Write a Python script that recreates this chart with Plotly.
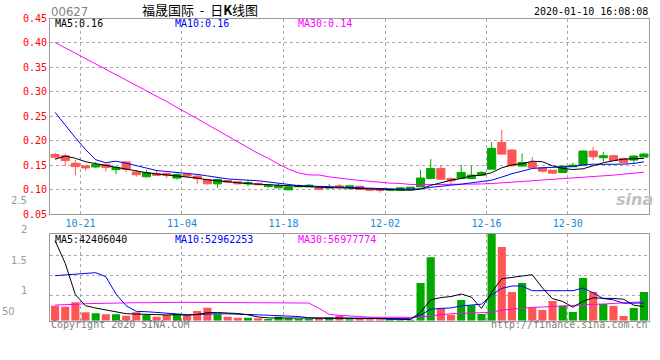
import plotly.graph_objects as go

# ---------------- data ----------------
dates = ["10-16", "10-17", "10-18", "10-21", "10-22", "10-23", "10-24", "10-25", "10-28", "10-29",
         "10-30", "10-31", "11-01", "11-04", "11-05", "11-06", "11-07", "11-08", "11-11", "11-12",
         "11-13", "11-14", "11-15", "11-18", "11-19", "11-20", "11-21", "11-22", "11-25", "11-26",
         "11-27", "11-28", "11-29", "12-02", "12-03", "12-04", "12-05", "12-06", "12-09", "12-10",
         "12-11", "12-12", "12-13", "12-16", "12-17", "12-18", "12-19", "12-20", "12-23", "12-24",
         "12-27", "12-30", "12-31", "01-02", "01-03", "01-06", "01-07", "01-08", "01-09"]
tick_labels = ["10-21", "11-04", "11-18", "12-02", "12-16", "12-30"]

price_open = [0.1662, 0.1593, 0.147, 0.1442, 0.151, 0.1449, 0.1455, 0.1414, 0.1304, 0.1345,
              0.129, 0.129, 0.131, 0.1276, 0.1221, 0.1117, 0.1207, 0.1152, 0.1117, 0.1146,
              0.1097, 0.109, 0.1083, 0.1056, 0.1083, 0.109, 0.1007, 0.1056, 0.1042, 0.1076,
              0.100, 0.0986, 0.0979, 0.1007, 0.1035, 0.1049, 0.1236, 0.1432, 0.1212, 0.1178,
              0.135, 0.1295, 0.135, 0.1843, 0.1726, 0.1486, 0.1555, 0.1445, 0.1377, 0.1336,
              0.148, 0.150, 0.1788, 0.1671, 0.1692, 0.1596, 0.1548, 0.1685, 0.1726]
price_close = [0.1718, 0.169, 0.1538, 0.1483, 0.1462, 0.1518, 0.1407, 0.1566, 0.1359, 0.1262,
               0.1331, 0.1331, 0.1235, 0.1317, 0.1276, 0.1207, 0.1117, 0.1186, 0.1159, 0.1118,
               0.1125, 0.1062, 0.1035, 0.0993, 0.1056, 0.1056, 0.1042, 0.1035, 0.1076, 0.1042,
               0.1069, 0.1007, 0.100, 0.0986, 0.0986, 0.1007, 0.1056, 0.1226, 0.1432, 0.1226,
               0.1226, 0.1226, 0.1295, 0.1418, 0.1966, 0.1808, 0.148, 0.1555, 0.1445, 0.1397,
               0.135, 0.1466, 0.150, 0.1788, 0.1651, 0.1692, 0.1637, 0.1603, 0.1664]
price_high = [0.1752, 0.1731, 0.1607, 0.1497, 0.1566, 0.1525, 0.1469, 0.1573, 0.140, 0.140,
              0.140, 0.1345, 0.1331, 0.1317, 0.129, 0.1221, 0.1221, 0.1186, 0.1159, 0.1194,
              0.1146, 0.109, 0.1118, 0.1056, 0.1104, 0.1118, 0.1042, 0.1118, 0.1118, 0.1097,
              0.1069, 0.1007, 0.100, 0.1007, 0.1049, 0.1049, 0.1403, 0.1623, 0.150, 0.1247,
              0.150, 0.1486, 0.1377, 0.1966, 0.2219, 0.183, 0.174, 0.1664, 0.1445, 0.140,
              0.1493, 0.1548, 0.1802, 0.1877, 0.1774, 0.1712, 0.165, 0.1705, 0.1753]
price_low = [0.1635, 0.1483, 0.1297, 0.1386, 0.1442, 0.1366, 0.1317, 0.1359, 0.1262, 0.1242,
             0.1276, 0.1235, 0.1207, 0.1242, 0.111, 0.111, 0.1035, 0.113, 0.1104, 0.1069,
             0.109, 0.1035, 0.1035, 0.0993, 0.1056, 0.1056, 0.099, 0.1035, 0.1042, 0.100,
             0.100, 0.0965, 0.0938, 0.0965, 0.0986, 0.1007, 0.1056, 0.1226, 0.1212, 0.111,
             0.1226, 0.1226, 0.1295, 0.1418, 0.1712, 0.1466, 0.1466, 0.1445, 0.135, 0.133,
             0.135, 0.1466, 0.150, 0.160, 0.1569, 0.1582, 0.1548, 0.1534, 0.1664]

price_ma5 = [0.162, 0.1685, 0.164, 0.157, 0.153, 0.149, 0.146, 0.1415, 0.138, 0.1345,
             0.132, 0.130, 0.128, 0.126, 0.1235, 0.120, 0.1175, 0.116, 0.114, 0.112,
             0.111, 0.1097, 0.108, 0.1065, 0.1056, 0.1056, 0.1045, 0.104, 0.1035, 0.103,
             0.1028, 0.102, 0.1007, 0.100, 0.0993, 0.0985, 0.101, 0.1085, 0.1137, 0.1192,
             0.1226, 0.128, 0.1295, 0.1345, 0.1445, 0.1505, 0.1527, 0.158, 0.157, 0.1486,
             0.1432, 0.141, 0.1425, 0.1493, 0.1548, 0.159, 0.1623, 0.163, 0.1637]
price_ma10 = [0.258, 0.231, 0.206, 0.182, 0.161, 0.155, 0.158, 0.154, 0.149, 0.144,
              0.139, 0.137, 0.1355, 0.1335, 0.131, 0.128, 0.125, 0.1218, 0.1205, 0.1195,
              0.118, 0.1155, 0.113, 0.1102, 0.108, 0.1072, 0.1064, 0.1058, 0.1055, 0.1045,
              0.1025, 0.102, 0.1017, 0.1012, 0.1007, 0.1007, 0.1015, 0.1045, 0.1075, 0.109,
              0.111, 0.1137, 0.116, 0.1192, 0.1255, 0.1325, 0.1377, 0.1432, 0.1445, 0.1452,
              0.1459, 0.1473, 0.150, 0.152, 0.1516, 0.1514, 0.152, 0.1534, 0.1568]
price_ma30 = [0.401, 0.390, 0.3795, 0.369, 0.358, 0.347, 0.336, 0.325, 0.314, 0.303,
              0.292, 0.280, 0.268, 0.257, 0.245, 0.233, 0.221, 0.209, 0.197, 0.185,
              0.174, 0.164, 0.152, 0.142, 0.134, 0.130, 0.1298, 0.126, 0.1229, 0.121,
              0.1187, 0.1166, 0.1146, 0.1132, 0.1125, 0.1104, 0.110, 0.110, 0.1103, 0.1103,
              0.1105, 0.1108, 0.1115, 0.1123, 0.1137, 0.1146, 0.1158, 0.117, 0.1192, 0.120,
              0.1212, 0.1226, 0.124, 0.126, 0.128, 0.1295, 0.1315, 0.1335, 0.1356]

# volume in millions of shares
volume_m = [45, 42, 55, 25, 22, 19, 19, 15, 25, 17,
            12, 17, 20, 15, 29, 39, 19, 12, 9, 9,
            7, 5, 12, 7, 5, 5, 7, 10, 15, 4,
            6, 4, 4, 4, 3, 3, 113, 190, 38, 18,
            62, 46, 20, 280, 221, 86, 113, 40, 32, 59,
            45, 26, 128, 86, 50, 44, 14, 38, 86]
vol_ma5 = [240, 172, 78, 45, 38, 33, 28, 21, 20, 19,
           17.6, 17.2, 18.2, 16.2, 18.6, 24, 24.4, 22.8, 21.6, 17.6,
           11.2, 8.4, 8.4, 8, 7.2, 6.8, 7.2, 6.8, 8.4, 8.2,
           8.4, 7.8, 6.6, 4.4, 4.2, 3.6, 25.4, 62.6, 69.4, 72.4,
           80, 70.8, 36.8, 85.2, 125.8, 130.6, 135, 138, 98.4, 66,
           57.8, 40.4, 58, 68.8, 67, 66.8, 64.4, 46.4, 42.4]
vol_ma10 = [135, 137, 140, 142, 144, 132, 80, 45, 28, 27,
            25, 22.6, 19.1, 18.1, 18.8, 20.8, 20.8, 20.5, 18.9, 18.1,
            17.6, 16.4, 15.6, 14.8, 12.4, 9, 7.8, 7.6, 8.2, 7.7,
            7.6, 7.5, 6.7, 6.4, 6.2, 6, 16.6, 34.6, 36.9, 38.3,
            44.3, 48.1, 49.7, 77.3, 97, 104, 104, 90, 90, 92,
            92, 90, 98, 83.6, 66.5, 62.3, 52.4, 52.2, 53.0]
vol_ma30 = [47, 47, 49, 51, 52, 52, 53, 53, 54, 54,
            55, 55, 55, 55, 55, 55, 55, 55, 55, 55,
            55, 55, 55, 55, 55, 53, 37, 19, 16, 15,
            12.5, 10.5, 10, 10, 10, 10, 11, 15, 19, 21,
            22, 23, 24, 25, 32, 35, 38, 40, 41, 43,
            45, 47, 48, 49, 50, 52, 54, 55, 57]

price_ticks = [0.05, 0.10, 0.15, 0.20, 0.25, 0.30, 0.35, 0.40, 0.45]
vol_grid = [75, 135, 195]
vol_scale_labels = ["2.5", "2", "1.5", "1"]

title_text = "福晟国际\u00a0\u00a0-\u00a0\u00a0日<b>K</b>线图"
code_text = "00627"
time_text = "2020-01-10 16:08:08"
price_ma_text = ["MA5:0.16", "MA10:0.16", "MA30:0.14"]
vol_ma_text = ["MA5:42406040", "MA10:52962253", "MA30:56977774"]

# ---------------- style ----------------
W, H = 660, 360
RED = "#ff5555"
GREEN = "#00a800"
MA_COLORS = ["#000000", "#0000ff", "#ff00ff"]
GRID = "#a8a8a8"
BORDER = "#9a9a9a"
MONO = "DejaVu Sans Mono, Liberation Mono, monospace"


def fx(p):
    return p / W


def fy(p):
    return 1 - p / H


n = len(dates)
xs = [i + 0.5 for i in range(n)]
tickvals = [dates.index(t) for t in tick_labels]
bar_colors = [RED if c >= o else GREEN for o, c in zip(price_open, price_close)]

fig = go.Figure()

fig.add_trace(go.Candlestick(
    x=xs, open=price_open, high=price_high, low=price_low, close=price_close,
    increasing=dict(line=dict(color=RED, width=1), fillcolor=RED),
    decreasing=dict(line=dict(color=GREEN, width=1), fillcolor=GREEN),
    whiskerwidth=0, xaxis="x", yaxis="y", showlegend=False))

for ys, col in zip([price_ma30, price_ma10, price_ma5], MA_COLORS[::-1]):
    fig.add_trace(go.Scatter(x=xs, y=ys, mode="lines", line=dict(color=col, width=1),
                             xaxis="x", yaxis="y", showlegend=False, hoverinfo="skip"))

fig.add_trace(go.Bar(x=xs, y=volume_m, width=0.8, marker=dict(color=bar_colors, line=dict(width=0)),
                     xaxis="x2", yaxis="y2", showlegend=False))

for ys, col in zip([vol_ma30, vol_ma10, vol_ma5], MA_COLORS[::-1]):
    fig.add_trace(go.Scatter(x=xs, y=ys, mode="lines", line=dict(color=col, width=1),
                             xaxis="x2", yaxis="y2", showlegend=False, hoverinfo="skip", cliponaxis=True))

common = dict(showline=True, mirror=True, linecolor=BORDER, linewidth=1, zeroline=False,
              showgrid=True, gridcolor=GRID, griddash="dot", gridwidth=1, ticks="",
              fixedrange=True, automargin=False)

fig.update_layout(
    template="none",
    width=W, height=H, margin=dict(l=0, r=0, t=0, b=0, pad=0),
    paper_bgcolor="white", plot_bgcolor="white", showlegend=False,
    boxgap=0.2, boxgroupgap=0,
    xaxis=dict(domain=[fx(50), fx(649)], range=[0, n], anchor="y",
               tickvals=tickvals, ticktext=tick_labels,
               tickfont=dict(family=MONO, size=10, color="#1a88d0"),
               rangeslider=dict(visible=False), **common),
    yaxis=dict(domain=[fy(214), fy(18.5)], range=[0.05, 0.45], anchor="x",
               tickvals=price_ticks, ticktext=["%.2f" % v for v in price_ticks],
               tickfont=dict(family=MONO, size=10, color="#ff0000"), **common),
    xaxis2=dict(domain=[fx(50), fx(649)], range=[0, n], anchor="y2",
                tickvals=tickvals, showticklabels=False, **common),
    yaxis2=dict(domain=[fy(320.7), fy(234)], range=[0, 260], anchor="x2",
                tickvals=vol_grid, showticklabels=False, **common),
)

ann = []


def add_text(text, x, y, color, size=10, family=MONO, xanchor="left"):
    ann.append(dict(text=text, x=fx(x), y=fy(y), xref="paper", yref="paper",
                    xanchor=xanchor, yanchor="middle", showarrow=False,
                    font=dict(family=family, size=size, color=color)))


add_text(code_text, 49, 11, "#808080", size=13,
         family="Liberation Sans Narrow, DejaVu Sans Condensed, sans-serif")
add_text(title_text, 200, 9, "#000000", size=13, family="Noto Sans CJK SC", xanchor="center")
add_text(time_text, 650, 12, "#000000", xanchor="right")

for t, x0, col in zip(price_ma_text, [53, 173, 296], MA_COLORS):
    add_text(t, x0, 24, col)
for t, x0, col in zip(vol_ma_text, [53, 173, 296], MA_COLORS):
    add_text(t, x0, 239, col)

for lab in vol_scale_labels:
    add_text(lab, 29, 290 - (float(lab) - 1) * 60, "#999999", size=10,
             family="DejaVu Sans, sans-serif", xanchor="right")
add_text("50", 0, 311, "#999999", size=10, family="DejaVu Sans, sans-serif", xanchor="left")

add_text("Copyright 2020 SINA.COM", 49, 324, "#808080")
add_text("http://finance.sina.com.cn", 650, 324, "#808080", xanchor="right")
add_text("<b><i>sina</i></b>", 634, 199, "#c0c0c0", size=16,
         family="DejaVu Sans, sans-serif", xanchor="center")

fig.update_layout(annotations=ann)

fig.write_html("out.html", config={"displayModeBar": False, "staticPlot": True},
               post_script="document.body.style.margin='0px';document.body.style.padding='0px';")
